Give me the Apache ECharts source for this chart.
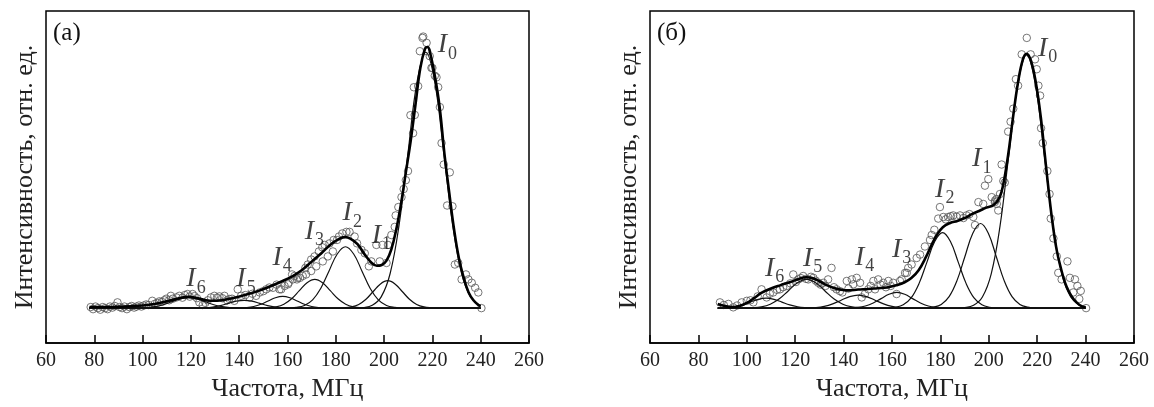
<!DOCTYPE html>
<html><head><meta charset="utf-8">
<script src="https://cdn.jsdelivr.net/npm/echarts@6/dist/echarts.min.js"></script>
<style>html,body{margin:0;padding:0;background:#fff}#c{width:1154px;height:407px}</style>
</head><body><div id="c"></div>
<script>
// ---------- Panel (а) ----------
const sumA = [[78,0.004],[85,0.004],[90,0.005],[95,0.007],[100,0.01],[105,0.016],[110,0.026],[115,0.038],[119,0.043],[123,0.038],[128,0.028],[133,0.03],[138,0.04],[143,0.052],[148,0.066],[153,0.084],[158,0.104],[162,0.122],[166,0.146],[170,0.178],[174,0.21],[178,0.245],[182,0.268],[184,0.272],[186,0.266],[189,0.245],[192,0.205],[195,0.172],[197,0.162],[199,0.165],[201,0.182],[203,0.225],[205,0.3],[207,0.4],[209,0.52],[211,0.64],[213,0.78],[215,0.92],[217,0.995],[218,1.0],[219,0.98],[221,0.89],[223,0.77],[225,0.59],[227,0.44],[229,0.3],[231,0.19],[233,0.115],[235,0.06],[237,0.03],[239,0.012],[240,0.008]];
const I0a = [[78,0],[183.9,0],[187.7,0.0003],[191.4,0.0022],[195.1,0.0109],[198.8,0.043],[202.5,0.1326],[206.2,0.3182],[209.9,0.5944],[213.6,0.8649],[217.3,0.98],[221,0.8649],[224.7,0.5944],[228.4,0.3182],[232.1,0.1326],[235.8,0.043],[239.5,0.0109],[240,0.008]];
const I1a = [[78,0],[180.5,0],[183.5,0.0012],[186.5,0.0046],[189.5,0.0142],[192.5,0.0341],[195.5,0.0637],[198.5,0.0927],[201.5,0.105],[204.5,0.0927],[207.5,0.0637],[210.5,0.0341],[213.5,0.0142],[216.5,0.0046],[219.5,0.0012],[222.5,0],[240,0]];
const I2a = [[78,0],[160.2,0],[163.6,0.0026],[167,0.0103],[170.4,0.0318],[173.8,0.0763],[177.2,0.1425],[180.6,0.2074],[184,0.235],[187.4,0.2074],[190.8,0.1425],[194.2,0.0763],[197.6,0.0318],[201,0.0103],[204.4,0.0026],[207.8,0],[240,0]];
const I3a = [[78,0],[148.9,0],[152.1,0.0012],[155.3,0.0048],[158.5,0.0149],[161.7,0.0357],[164.9,0.0667],[168.1,0.0971],[171.3,0.11],[174.5,0.0971],[177.7,0.0667],[180.9,0.0357],[184.1,0.0149],[187.3,0.0048],[190.5,0.0012],[193.7,0],[240,0]];
const I4a = [[78,0],[137,0],[140,0.0005],[143,0.002],[146,0.0061],[149,0.0146],[152,0.0273],[155,0.0397],[158,0.045],[161,0.0397],[164,0.0273],[167,0.0146],[170,0.0061],[173,0.002],[176,0.0005],[179,0],[240,0]];
const I5a = [[78,0],[119.25,0],[122.5,0.0003],[125.75,0.0013],[129,0.0041],[132.25,0.0097],[135.5,0.0182],[138.75,0.0265],[142,0.03],[145.25,0.0265],[148.5,0.0182],[151.75,0.0097],[155,0.0041],[158.25,0.0013],[161.5,0.0003],[164.75,0],[240,0]];
const I6a = [[78,0],[94.5,0],[98,0.0004],[101.5,0.0018],[105,0.0054],[108.5,0.013],[112,0.0243],[115.5,0.0353],[119,0.04],[122.5,0.0353],[126,0.0243],[129.5,0.013],[133,0.0054],[136.5,0.0018],[140,0.0004],[143.5,0],[240,0]];
const pointsA = [[78.5,0.004],[79.5,-0.004],[80.5,0.006],[81.5,0.0],[82.5,-0.006],[83.5,0.004],[84.5,0.0],[85.5,-0.004],[86.5,0.006],[87.5,0.002],[88.5,0.008],[89.6,0.022],[90.5,0.004],[91.5,0.0],[92.5,0.006],[93.5,-0.004],[94.5,0.004],[95.5,0.008],[96.5,0.002],[97.5,0.006],[98.5,0.01],[99.5,0.006],[100.5,0.01],[101.5,0.014],[102.5,0.012],[104,0.028],[105,0.016],[106,0.02],[107,0.026],[108,0.024],[109,0.03],[109.8,0.036],[111,0.03],[111.7,0.047],[112.5,0.036],[114,0.041],[115.2,0.047],[116.5,0.04],[117.5,0.05],[118.6,0.054],[119.5,0.044],[120.7,0.054],[121.5,0.046],[122.5,0.038],[123.5,0.022],[124.9,0.012],[126,0.02],[127,0.03],[128.3,0.041],[129.7,0.047],[130.8,0.04],[131.8,0.045],[133,0.038],[133.9,0.047],[135,0.03],[135.9,0.035],[137,0.036],[138,0.028],[139.4,0.072],[140.8,0.047],[142.5,0.05],[144.3,0.041],[145.5,0.055],[147,0.047],[148.5,0.06],[150,0.065],[151.2,0.072],[152.5,0.079],[154,0.078],[155.5,0.09],[156.7,0.072],[157.4,0.072],[158.8,0.085],[160.2,0.091],[160.5,0.097],[161.9,0.129],[162.2,0.11],[162.9,0.123],[163.9,0.11],[164.3,0.116],[165.2,0.116],[166.3,0.123],[167.4,0.154],[167.7,0.129],[168.4,0.167],[169.8,0.142],[169.8,0.186],[171.2,0.198],[171.9,0.16],[173,0.217],[174.4,0.233],[174.6,0.179],[175.4,0.242],[176.7,0.198],[177.4,0.248],[178.8,0.217],[179.1,0.261],[180.5,0.261],[181.3,0.274],[182.7,0.286],[184.4,0.292],[185.7,0.292],[187.8,0.274],[188.8,0.248],[190.6,0.223],[192,0.21],[193.7,0.16],[194.7,0.179],[196.8,0.242],[198.2,0.179],[199.3,0.242],[201,0.173],[201.6,0.242],[203,0.28],[204.4,0.311],[204.8,0.355],[205.9,0.387],[207.2,0.425],[208.1,0.456],[209,0.49],[209.9,0.525],[210.9,0.739],[212,0.67],[212.3,0.846],[212.7,0.74],[214.1,0.85],[214.8,0.984],[215.9,1.035],[216.2,1.04],[217.6,1.016],[217.8,0.984],[218.9,0.965],[219.6,0.92],[220,0.92],[221,0.89],[221.7,0.884],[222.4,0.846],[223.1,0.77],[223.8,0.632],[224.7,0.55],[226.1,0.393],[227.2,0.52],[228.3,0.39],[229.3,0.167],[230.7,0.173],[232.1,0.11],[233.9,0.129],[234.9,0.11],[236.3,0.097],[237.7,0.078],[239,0.06],[240.3,0.0]];
const labelsA = [['0',222.2,1.0],['1',194.9,0.27],['2',182.8,0.357],['3',167.1,0.285],['4',153.8,0.187],['5',138.8,0.104],['6',118.1,0.104]];

// ---------- Panel (б) ----------
const sumB = [[88,0.016],[91,0.008],[94,0.004],[97,0.008],[100,0.02],[103,0.038],[106,0.058],[110,0.075],[114,0.088],[118,0.1],[121,0.11],[124.5,0.118],[127,0.115],[130,0.103],[133,0.088],[136,0.077],[139,0.07],[142,0.068],[146,0.071],[150,0.073],[154,0.076],[158,0.079],[162,0.088],[165,0.098],[168,0.115],[171,0.145],[174,0.195],[176.5,0.245],[178.5,0.28],[181,0.31],[184,0.326],[187,0.334],[190,0.345],[193,0.36],[196,0.372],[199,0.385],[202,0.395],[204.5,0.425],[206,0.475],[207.4,0.55],[208.5,0.62],[210,0.73],[212,0.86],[214,0.95],[215.6,0.974],[217.5,0.945],[219.5,0.86],[221.5,0.73],[223,0.6],[224.5,0.47],[226,0.35],[228,0.225],[230,0.145],[231.5,0.097],[233,0.065],[235,0.035],[237.5,0.012],[240,0.003]];
const I0b = [[88,0],[182.75,0],[186.4,0.0003],[190.05,0.0021],[193.7,0.0108],[197.35,0.0426],[201,0.1312],[204.65,0.315],[208.3,0.5883],[211.95,0.856],[215.6,0.97],[219.25,0.856],[222.9,0.5883],[226.55,0.315],[230.2,0.1312],[233.85,0.0426],[237.5,0.0108],[240,0.004]];
const I1b = [[88,0],[170.6,0],[173.85,0.0007],[177.1,0.0036],[180.35,0.0142],[183.6,0.0438],[186.85,0.1052],[190.1,0.1965],[193.35,0.2859],[196.6,0.324],[199.85,0.2859],[203.1,0.1965],[206.35,0.1052],[209.6,0.0438],[212.85,0.0142],[216.1,0.0036],[219.35,0.0007],[222.6,0],[240,0]];
const I2b = [[88,0],[154.9,0],[158.15,0.0006],[161.4,0.0032],[164.65,0.0127],[167.9,0.0391],[171.15,0.0938],[174.4,0.1753],[177.65,0.255],[180.9,0.289],[184.15,0.255],[187.4,0.1753],[190.65,0.0938],[193.9,0.0391],[197.15,0.0127],[200.4,0.0032],[203.65,0.0006],[206.9,0],[240,0]];
const I3b = [[88,0],[139.25,0],[142.5,0.0007],[145.75,0.0026],[149,0.0081],[152.25,0.0195],[155.5,0.0364],[158.75,0.053],[162,0.06],[165.25,0.053],[168.5,0.0364],[171.75,0.0195],[175,0.0081],[178.25,0.0026],[181.5,0.0007],[184.75,0],[240,0]];
const I4b = [[88,0],[121.5,0],[125,0.0006],[128.5,0.0022],[132,0.0068],[135.5,0.0162],[139,0.0303],[142.5,0.0441],[146,0.05],[149.5,0.0441],[153,0.0303],[156.5,0.0162],[160,0.0068],[163.5,0.0022],[167,0.0006],[170.5,0],[240,0]];
const I5b = [[88,0],[98.45,0],[102.2,0.0012],[105.95,0.0048],[109.7,0.0149],[113.45,0.0357],[117.2,0.0667],[120.95,0.0971],[124.7,0.11],[128.45,0.0971],[132.2,0.0667],[135.95,0.0357],[139.7,0.0149],[143.45,0.0048],[147.2,0.0012],[150.95,0],[240,0]];
const I6b = [[88,0],[88.5,0.0004],[91.75,0.0017],[95,0.0051],[98.25,0.0123],[101.5,0.023],[104.75,0.0335],[108,0.038],[111.25,0.0335],[114.5,0.023],[117.75,0.0123],[121,0.0051],[124.25,0.0017],[127.5,0.0004],[130.75,0],[240,0]];
const pointsB = [[88.9,0.022],[90.5,0.012],[92.4,0.016],[94.4,0.003],[96,0.01],[97.9,0.022],[100,0.028],[101.5,0.03],[102.7,0.022],[104.5,0.045],[106.1,0.072],[108.2,0.041],[109.5,0.055],[110.9,0.06],[112.5,0.07],[113.7,0.072],[115,0.08],[116.5,0.085],[118,0.095],[119.2,0.129],[120.3,0.1],[121.3,0.11],[122.3,0.115],[123.3,0.123],[124.5,0.112],[125.4,0.11],[126.5,0.12],[127.5,0.116],[128.5,0.105],[129.5,0.097],[130.5,0.09],[131.6,0.097],[132.5,0.085],[133.6,0.11],[135,0.154],[136,0.08],[137.1,0.072],[138.5,0.065],[139.5,0.06],[141.3,0.104],[142,0.075],[143.4,0.11],[144,0.091],[145.4,0.116],[146.8,0.097],[147.5,0.041],[148.8,0.054],[150.2,0.072],[151.2,0.085],[152.3,0.104],[153,0.072],[154.3,0.11],[155.3,0.09],[156.4,0.097],[157.5,0.08],[158.5,0.104],[159.5,0.085],[160.5,0.097],[161.9,0.054],[163.3,0.104],[164,0.11],[165.4,0.135],[166.1,0.135],[166.7,0.154],[168.1,0.167],[170.2,0.192],[171.6,0.205],[173.6,0.236],[175.7,0.261],[176.4,0.28],[177.5,0.3],[179.1,0.343],[179.8,0.387],[181.2,0.349],[182.2,0.34],[183.2,0.349],[184.3,0.352],[185.3,0.355],[186.7,0.35],[188.1,0.355],[189.5,0.345],[190.8,0.355],[192,0.36],[193.6,0.349],[194.3,0.318],[195.7,0.406],[197.7,0.399],[198.4,0.469],[199.8,0.494],[201.2,0.425],[202.5,0.406],[202.6,0.412],[203.2,0.418],[203.3,0.399],[203.9,0.374],[204.6,0.437],[205.3,0.55],[206,0.487],[206.6,0.481],[208,0.676],[209,0.714],[210.1,0.764],[211.2,0.877],[212.1,0.852],[213.6,0.972],[215.7,1.035],[217.3,0.972],[219.1,0.953],[219.8,0.915],[220.5,0.852],[221.2,0.814],[221.6,0.689],[222.3,0.632],[224.2,0.525],[225.1,0.437],[225.6,0.343],[226.7,0.267],[228.1,0.198],[228.7,0.135],[230.1,0.11],[232.5,0.179],[233.5,0.116],[234.9,0.06],[235.6,0.11],[236.6,0.085],[237.4,0.035],[238,0.066],[240.2,0.0]];
const labelsB = [['0',220.3,0.987],['1',193.1,0.564],['2',177.8,0.447],['3',160,0.217],['4',144.7,0.187],['5',123.2,0.183],['6',107.5,0.145]];

const panelTitles = ['(а)','(б)'];
const xName = 'Частота, МГц';
const yName = 'Интенсивность, отн. ед.';

const FONT = "'Liberation Serif','Times New Roman',serif";
const chart = echarts.init(document.getElementById('c'), null, {renderer:'canvas'});

function xAxis(i){
  return {gridIndex:i, type:'value', min:60, max:260, interval:20,
    axisLine:{show:true, onZero:false, lineStyle:{color:'#000', width:1.5}},
    axisTick:{show:true, inside:true, length:8, lineStyle:{color:'#000', width:1.5}},
    axisLabel:{margin:8, fontFamily:FONT, fontSize:20, color:'#222'},
    splitLine:{show:false},
    name:xName, nameLocation:'middle', nameGap:29,
    nameTextStyle:{fontFamily:FONT, fontSize:26, color:'#222'}};
}
function yAxis(i){
  return {gridIndex:i, type:'value', min:-0.134, max:1.138,
    axisLine:{show:false, onZero:false}, axisTick:{show:false}, axisLabel:{show:false}, splitLine:{show:false},
    name:yName, nameLocation:'middle', nameGap:8, nameRotate:90,
    nameTextStyle:{fontFamily:FONT, fontSize:26, color:'#222'}};
}
function panel(idx, comps, sum, pts, labels){
  const s = [];
  s.push({type:'scatter', xAxisIndex:idx, yAxisIndex:idx, data:pts, symbol:'circle', symbolSize:7.5,
    itemStyle:{color:'rgba(255,255,255,0)', borderColor:'#555', borderWidth:1}, z:2, silent:true});
  comps.forEach(c => s.push({type:'line', xAxisIndex:idx, yAxisIndex:idx, data:c, smooth:0.4, showSymbol:false,
    lineStyle:{color:'#111', width:1.2}, z:3, silent:true}));
  s.push({type:'line', xAxisIndex:idx, yAxisIndex:idx, data:sum, smooth:0.4, showSymbol:false,
    lineStyle:{color:'#000', width:2.6}, z:4, silent:true});
  s.push({type:'scatter', xAxisIndex:idx, yAxisIndex:idx, symbolSize:0, silent:true, z:5,
    data:labels.map(l => ({value:[l[1], l[2]], sub:l[0]})),
    label:{show:true, position:'right', distance:0,
      formatter: p => '{i|I}{s|' + p.data.sub + '}',
      rich:{
        i:{fontFamily:FONT, fontStyle:'italic', fontSize:28, color:'#111', verticalAlign:'top'},
        s:{fontFamily:FONT, fontSize:18, color:'#111', verticalAlign:'top', padding:[14,0,0,1]}
      }}});
  return s;
}

const option = {
  animation:false,
  backgroundColor:'#fff',
  title:[
    {text:panelTitles[0], left:48, top:16, textStyle:{fontFamily:FONT, fontSize:25, fontWeight:'normal', color:'#111'}},
    {text:panelTitles[1], left:652, top:16, textStyle:{fontFamily:FONT, fontSize:25, fontWeight:'normal', color:'#111'}}
  ],
  grid:[
    {left:46, top:11, width:483, height:337, show:true, borderColor:'#000', borderWidth:1.5, backgroundColor:'transparent'},
    {left:650, top:11, width:484, height:337, show:true, borderColor:'#000', borderWidth:1.5, backgroundColor:'transparent'}
  ],
  xAxis:[xAxis(0), xAxis(1)],
  yAxis:[yAxis(0), yAxis(1)],
  series:[].concat(
    panel(0, [I0a,I1a,I2a,I3a,I4a,I5a,I6a], sumA, pointsA, labelsA),
    panel(1, [I0b,I1b,I2b,I3b,I4b,I5b,I6b], sumB, pointsB, labelsB)
  )
};
chart.setOption(option);
</script></body></html>
